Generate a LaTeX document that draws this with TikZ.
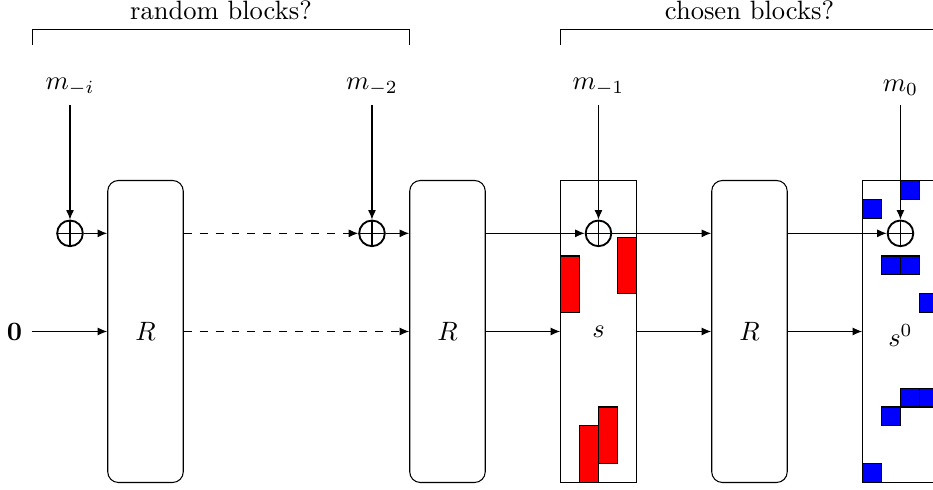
\documentclass[tikz,border=0pt]{standalone}
\usetikzlibrary{arrows.meta}
\begin{document}
\begin{tikzpicture}[
  >={Latex[length=3.6pt,width=3pt]},
  rbox/.style={draw, rounded corners=4pt, minimum width=1cm, minimum height=4cm, inner sep=0pt},
  sbox/.style={draw, minimum width=1cm, minimum height=4cm, inner sep=0pt},
  xorn/.style={circle, draw, line width=0.7pt, minimum size=0.34cm, inner sep=0pt,
    path picture={\draw[line width=0.6pt] (path picture bounding box.north) -- (path picture bounding box.south)
      (path picture bounding box.west) -- (path picture bounding box.east);}},
  redblk/.style={fill=red, draw=black},
  blueblk/.style={fill=blue, draw=black},
  mlbl/.style={anchor=south},
]
\useasboundingbox (-1.9272,-2.0993) rectangle (10.4308,4.3907);
\clip (-1.9272,-2.0993) rectangle (10.4308,4.3907);

% brackets
\draw (-1.5,3.8) -- (-1.5,4) -- (3.5,4) -- (3.5,3.8);
\node[anchor=south] (rb) at (1,4) {random blocks?};
\draw (5.5,3.8) -- (5.5,4) -- (10.5,4) -- (10.5,3.8);
\node[anchor=south] (cb) at (8,4) {chosen blocks?};

% boxes
\node[rbox] (R1) at (0,0) {$R$};
\node[rbox] (R2) at (4,0) {$R$};
\node[sbox] (S) at (6,0) {$s$};
\node[rbox] (R3) at (8,0) {$R$};
\node[sbox] (S0) at (10,0) {};
\node (s0lab) at (10,-0.05) {$s^0$};

% red blocks
\draw[redblk] (5.5,0.25) rectangle (5.75,1);
\draw[redblk] (6.25,0.5) rectangle (6.5,1.25);
\draw[redblk] (5.75,-2) rectangle (6,-1.25);
\draw[redblk] (6,-1.75) rectangle (6.25,-1);

% blue blocks
\draw[blueblk] (10,1.75) rectangle (10.25,2);
\draw[blueblk] (9.5,1.5) rectangle (9.75,1.75);
\draw[blueblk] (9.75,0.75) rectangle (10,1);
\draw[blueblk] (10,0.75) rectangle (10.25,1);
\draw[blueblk] (10.25,0.25) rectangle (10.5,0.5);
\draw[blueblk] (10,-1) rectangle (10.25,-0.75);
\draw[blueblk] (10.25,-1) rectangle (10.5,-0.75);
\draw[blueblk] (9.75,-1.25) rectangle (10,-1);
\draw[blueblk] (9.5,-2) rectangle (9.75,-1.75);

% xor nodes
\node[xorn] (x1) at (-1,1.3) {};
\node[xorn] (x2) at (3,1.3) {};
\node[xorn] (x3) at (6,1.3) {};
\node[xorn] (x4) at (10,1.3) {};

% message labels
\node[mlbl] (m1) at (-1,3) {$m_{-i}$};
\node[mlbl] (m2) at (3,3) {$m_{-2}$};
\node[mlbl] (m3) at (6,3) {$m_{-1}$};
\node[mlbl] (m4) at (10,3) {$m_{0}$};
\draw[->] (m1) -- (x1);
\draw[->] (m2) -- (x2);
\draw[->] (m3) -- (x3);
\draw[->] (m4) -- (x4);

% zero input
\node (zero) at (-1.735,0) {$\mathbf{0}$};
\draw[->] (zero) -- (R1);

% upper path
\draw[->] (x1) -- (x1 -| R1.west);
\draw[->, dashed] (R1.east |- x2) -- (x2);
\draw[->] (x2) -- (x2 -| R2.west);
\draw[->] (R2.east |- x3) -- (x3);
\draw[->] (x3) -- (x3 -| R3.west);
\draw[->] (R3.east |- x4) -- (x4);

% lower path
\draw[->, dashed] (R1) -- (R2);
\draw[->] (R2) -- (S);
\draw[->] (S) -- (R3);
\draw[->] (R3) -- (S0);
\end{tikzpicture}
\end{document}
